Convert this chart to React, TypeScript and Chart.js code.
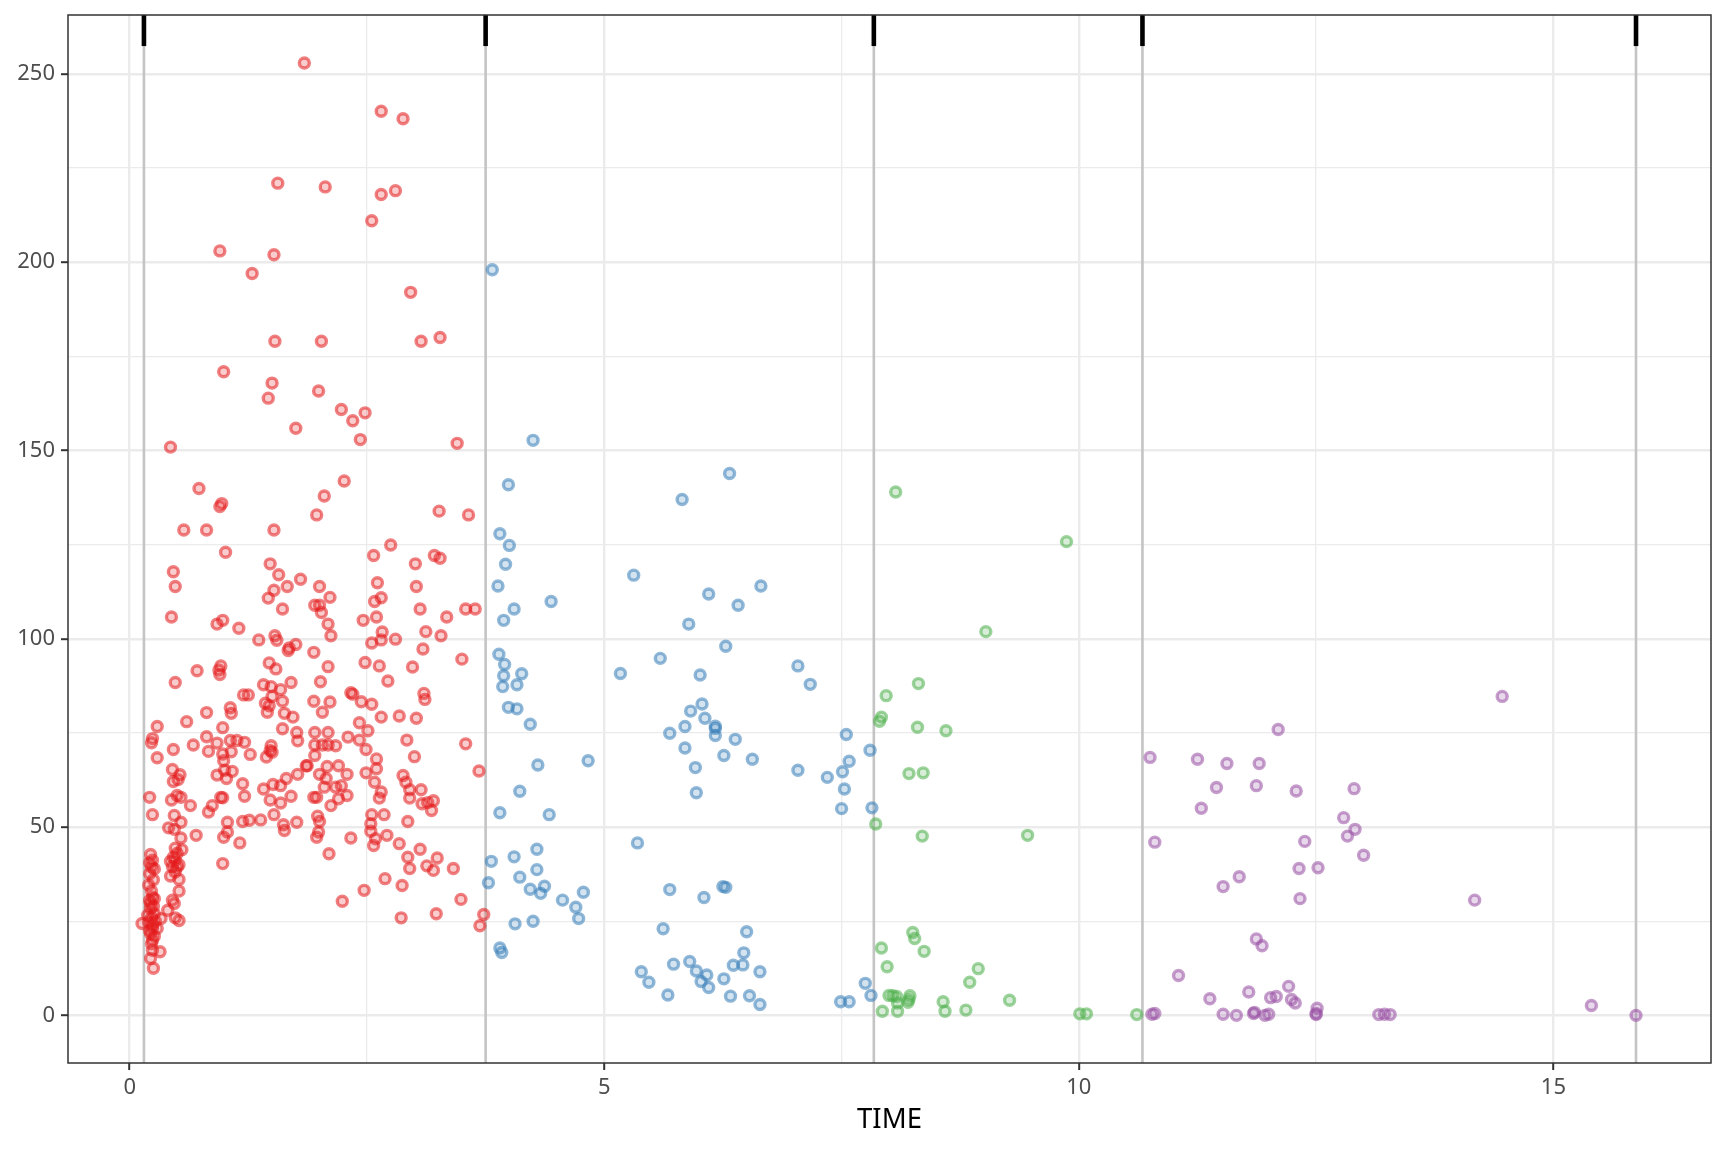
import { useEffect, useRef } from "react"
import { Chart, registerables } from "chart.js"

Chart.register(...registerables)

// [TIME, value], one list per period
const period1: [number, number][] = [
  [1.84, 252.9], [2.65, 240.1], [2.88, 238.1], [1.56, 221.0], [2.06, 220.0], [2.65, 218.0], [2.8, 219.0],
  [2.55, 211.0], [0.95, 203.0], [1.52, 202.0], [1.29, 197.0], [2.96, 192.0], [1.53, 179.0], [2.02, 179.0],
  [3.07, 179.0], [3.27, 180.0], [0.99, 170.9], [1.5, 167.9], [1.46, 163.9], [1.99, 165.8], [2.23, 160.9],
  [2.48, 160.0], [2.35, 157.9], [1.75, 155.9], [2.43, 152.9], [3.45, 151.9], [0.43, 150.9], [2.26, 141.9],
  [0.73, 139.9], [2.05, 137.9], [0.97, 135.9], [0.95, 135.1], [3.26, 133.9], [3.57, 132.9], [1.97, 132.9],
  [0.57, 128.9], [0.81, 128.9], [1.52, 128.9], [1.01, 123.0], [2.75, 124.9], [2.57, 122.1], [3.21, 122.1],
  [3.27, 121.4], [1.48, 119.9], [3.01, 119.9], [0.46, 117.8], [1.57, 117.0], [1.8, 115.8], [0.48, 113.9],
  [1.66, 113.9], [2.0, 113.9], [3.02, 113.9], [1.52, 112.9], [1.46, 110.8], [2.11, 111.0], [2.61, 114.9],
  [2.65, 110.9], [2.58, 109.9], [1.95, 108.9], [2.0, 108.9], [1.61, 107.9], [3.06, 107.9], [3.54, 107.9],
  [3.64, 107.9], [0.44, 105.8], [2.02, 107.0], [2.6, 105.8], [3.34, 105.8], [0.92, 103.9], [0.98, 104.9],
  [1.15, 102.8], [2.46, 104.9], [2.09, 103.9], [2.12, 100.8], [2.66, 101.8], [3.12, 101.9], [3.28, 100.8],
  [1.53, 100.8], [1.55, 99.6], [1.36, 99.7], [1.68, 97.6], [1.75, 98.5], [1.67, 96.9], [1.94, 96.4],
  [2.55, 98.9], [2.65, 99.7], [2.8, 99.9], [3.09, 97.3], [3.5, 94.6], [1.47, 93.6], [1.54, 92.0],
  [0.96, 92.8], [0.94, 91.7], [0.95, 90.5], [0.71, 91.5], [2.09, 92.6], [2.48, 93.7], [2.63, 92.8],
  [2.98, 92.5], [0.48, 88.4], [1.41, 87.8], [1.49, 87.3], [1.59, 86.5], [1.7, 88.4], [2.01, 88.6],
  [2.72, 88.8], [1.2, 85.1], [1.25, 85.1], [1.5, 84.7], [2.33, 85.7], [2.35, 85.3], [3.1, 85.5],
  [3.11, 83.9], [1.43, 82.9], [1.47, 82.2], [1.61, 83.4], [1.45, 80.5], [1.94, 83.4], [2.11, 83.2],
  [2.44, 83.3], [2.55, 82.6], [1.06, 81.7], [1.07, 80.2], [0.81, 80.4], [1.63, 80.2], [1.72, 79.2],
  [2.03, 80.5], [2.65, 79.2], [2.84, 79.5], [3.02, 78.9], [0.6, 78.0], [0.98, 76.4], [0.29, 76.7],
  [2.42, 77.7], [2.51, 75.6], [1.61, 76.1], [0.24, 73.5], [0.23, 72.4], [0.46, 70.6], [0.67, 71.8],
  [0.81, 74.0], [0.83, 70.1], [0.92, 72.3], [1.06, 73.0], [1.13, 73.0], [1.21, 72.5], [1.07, 70.0],
  [0.98, 69.4], [1.27, 69.3], [1.49, 71.6], [1.48, 70.3], [1.5, 69.9], [1.44, 68.6], [1.76, 75.1],
  [1.77, 72.9], [1.95, 75.1], [2.09, 75.1], [1.95, 71.8], [2.03, 71.8], [2.09, 71.8], [2.17, 71.6],
  [2.3, 73.9], [2.42, 73.1], [2.49, 70.6], [2.6, 68.1], [2.92, 73.1], [3.0, 68.7], [3.54, 72.1],
  [3.68, 64.9], [1.95, 69.0], [0.29, 68.4], [0.45, 65.3], [0.53, 63.9], [0.46, 62.1], [0.51, 62.6],
  [0.92, 63.8], [1.0, 65.1], [1.02, 62.9], [1.08, 64.8], [0.99, 67.6], [1.19, 61.5], [1.41, 60.1],
  [1.51, 61.3], [1.59, 61.0], [1.65, 62.9], [1.77, 64.0], [1.86, 66.3], [1.87, 66.3], [2.0, 64.0],
  [2.08, 66.1], [2.2, 66.3], [2.29, 64.0], [2.07, 62.9], [2.05, 60.6], [2.17, 60.6], [2.23, 61.0],
  [2.49, 64.4], [2.6, 65.5], [2.58, 61.9], [2.65, 59.3], [2.88, 63.7], [2.91, 61.9], [2.95, 59.9],
  [3.07, 59.9], [0.21, 57.9], [0.44, 57.2], [0.5, 58.4], [0.54, 57.9], [0.64, 55.7], [0.96, 57.9],
  [0.98, 57.8], [1.21, 58.2], [1.48, 57.2], [1.59, 56.4], [1.7, 58.2], [1.94, 57.9], [1.97, 57.9],
  [2.12, 55.7], [2.2, 57.5], [2.29, 58.4], [2.63, 57.7], [2.95, 57.7], [3.08, 56.2], [3.14, 56.5],
  [3.2, 57.0], [0.83, 54.0], [0.87, 55.7], [0.24, 53.3], [0.47, 53.1], [0.54, 51.3], [0.41, 49.8],
  [0.47, 49.4], [0.54, 47.1], [0.48, 44.4], [0.55, 44.0], [0.43, 40.9], [0.48, 41.2], [0.5, 39.4],
  [0.48, 38.1], [0.43, 37.0], [0.52, 36.1], [0.52, 33.0], [0.45, 30.6], [0.47, 29.7], [0.4, 27.9],
  [0.48, 25.9], [0.52, 25.2], [0.33, 25.7], [0.46, 42.0], [0.5, 43.0], [0.45, 39.5], [0.52, 40.0],
  [0.7, 47.8], [0.98, 40.3], [1.16, 45.8], [0.99, 47.3], [1.03, 48.7], [1.03, 51.3], [1.19, 51.5],
  [1.26, 51.8], [1.38, 51.9], [1.52, 53.3], [1.62, 50.6], [1.63, 49.1], [1.76, 51.3], [1.98, 52.9],
  [2.0, 51.5], [1.99, 48.7], [1.97, 47.3], [2.1, 42.9], [2.33, 47.1], [2.24, 30.3], [2.47, 33.2],
  [2.55, 53.3], [2.54, 50.9], [2.54, 48.9], [2.59, 46.9], [2.57, 45.1], [2.68, 53.3], [2.71, 47.8],
  [2.69, 36.3], [2.84, 45.6], [2.87, 34.5], [2.86, 25.9], [2.93, 42.0], [2.95, 39.0], [2.93, 51.5],
  [3.06, 44.1], [3.13, 39.7], [3.2, 38.5], [3.24, 41.8], [3.23, 27.0], [3.41, 39.0], [3.49, 30.8],
  [3.73, 26.8], [3.69, 23.8], [3.18, 54.4], [0.22, 42.7], [0.24, 41.2], [0.23, 39.4], [0.21, 37.6],
  [0.26, 38.9], [0.2, 34.6], [0.24, 31.4], [0.26, 31.0], [0.22, 29.7], [0.22, 28.4], [0.26, 27.0],
  [0.13, 24.4], [0.2, 24.8], [0.24, 23.1], [0.22, 21.7], [0.24, 20.0], [0.32, 16.9], [0.24, 17.3],
  [0.22, 15.1], [0.25, 12.5], [0.29, 23.1], [0.19, 26.6], [0.21, 40.5], [0.25, 36.0], [0.23, 33.0],
  [0.21, 30.5], [0.25, 29.0], [0.23, 26.0], [0.21, 22.5], [0.26, 21.0], [0.23, 19.0], [0.27, 25.0],
  [0.24, 24.0],
]

const period2: [number, number][] = [
  [3.82, 198.0], [4.25, 152.7], [6.32, 143.9], [3.99, 140.9], [5.82, 137.0], [3.9, 127.9], [4.0, 124.8],
  [3.96, 119.8], [5.31, 116.9], [6.65, 114.0], [3.88, 114.0], [6.1, 111.9], [4.44, 109.9], [4.05, 107.9],
  [6.41, 108.9], [3.94, 104.9], [5.89, 103.9], [6.28, 98.0], [3.89, 95.9], [5.59, 94.8], [3.95, 93.2],
  [7.04, 92.8], [3.94, 90.2], [4.13, 90.7], [5.17, 90.8], [6.01, 90.4], [3.93, 87.3], [4.08, 87.8],
  [7.17, 87.9], [3.99, 81.8], [4.08, 81.4], [6.03, 82.7], [5.91, 80.8], [6.06, 78.9], [4.22, 77.3],
  [5.85, 76.7], [6.17, 76.8], [6.17, 76.2], [5.69, 74.9], [6.17, 74.3], [7.55, 74.6], [6.38, 73.3],
  [5.85, 71.0], [7.8, 70.4], [6.26, 69.0], [6.56, 68.0], [7.58, 67.5], [4.3, 66.5], [4.83, 67.6],
  [5.96, 65.8], [7.04, 65.1], [7.51, 64.7], [7.35, 63.2], [4.11, 59.5], [5.97, 59.1], [7.53, 60.1],
  [7.5, 54.9], [7.82, 55.1], [3.9, 53.8], [4.42, 53.3], [5.35, 45.8], [4.29, 44.1], [3.81, 40.9],
  [4.05, 42.1], [4.29, 38.7], [4.11, 36.7], [3.78, 35.2], [4.22, 33.5], [4.37, 34.3], [4.33, 32.4],
  [4.56, 30.6], [4.78, 32.7], [4.7, 28.7], [4.73, 25.7], [4.06, 24.3], [4.25, 25.0], [3.9, 17.9],
  [3.92, 16.7], [5.69, 33.4], [6.05, 31.3], [6.25, 34.2], [6.28, 34.0], [5.62, 23.0], [6.5, 22.2],
  [6.47, 16.6], [5.39, 11.6], [5.47, 8.8], [5.73, 13.6], [5.9, 14.3], [5.97, 11.8], [6.08, 10.7],
  [6.02, 9.0], [6.1, 7.4], [6.26, 9.7], [6.36, 13.3], [6.46, 13.4], [6.64, 11.6], [5.67, 5.4],
  [6.33, 5.1], [6.53, 5.2], [6.64, 2.9], [7.49, 3.6], [7.58, 3.6], [7.75, 8.5], [7.81, 5.3],
]

const period3: [number, number][] = [
  [8.07, 139.0], [9.87, 125.8], [9.02, 101.9], [8.31, 88.1], [7.97, 84.9], [7.92, 79.2], [7.9, 78.1],
  [8.3, 76.5], [8.6, 75.6], [8.21, 64.2], [8.36, 64.4], [7.86, 50.8], [8.35, 47.6], [9.46, 47.8],
  [8.25, 22.0], [8.27, 20.4], [7.92, 17.9], [8.37, 17.0], [7.98, 12.9], [8.94, 12.4], [8.85, 8.8],
  [8.0, 5.3], [8.04, 5.2], [8.08, 5.0], [8.09, 3.3], [8.2, 3.5], [8.22, 5.2], [8.21, 4.2],
  [7.93, 1.1], [8.09, 1.1], [8.57, 3.6], [8.59, 1.1], [8.81, 1.4], [9.27, 4.0], [10.01, 0.4],
  [10.08, 0.4], [10.61, 0.2],
]

const period4: [number, number][] = [
  [10.75, 68.5], [10.8, 46.0], [10.77, 0.3], [10.8, 0.5], [11.05, 10.6], [11.25, 68.0], [11.29, 55.0],
  [11.38, 4.4], [11.45, 60.5], [11.52, 34.2], [11.56, 66.9], [11.52, 0.3], [11.66, 0.0], [11.69, 36.8],
  [11.79, 6.2], [11.84, 0.5], [11.85, 0.8], [11.87, 20.3], [11.87, 61.0], [11.9, 66.9], [11.93, 18.5],
  [11.96, 0.0], [12.0, 0.3], [12.02, 4.7], [12.08, 5.0], [12.1, 75.9], [12.21, 7.7], [12.24, 4.2],
  [12.28, 3.3], [12.29, 59.6], [12.32, 39.0], [12.33, 31.0], [12.38, 46.2], [12.51, 1.9], [12.5, 0.5],
  [12.5, 0.2], [12.52, 39.2], [12.79, 52.5], [12.83, 47.6], [12.9, 60.2], [12.91, 49.4], [13.0, 42.5],
  [13.16, 0.2], [13.22, 0.3], [13.28, 0.2], [14.17, 30.6], [14.46, 84.7], [15.4, 2.6], [15.87, 0.0],
]

const periodStarts = [0.15, 3.75, 7.84, 10.67, 15.87]
const periodColors = ["228, 26, 28", "55, 126, 184", "77, 175, 74", "152, 78, 163"]

const xGrid = [0, 2.5, 5, 7.5, 10, 12.5, 15]
const xLabels = [0, 5, 10, 15]
const yGrid = [0, 25, 50, 75, 100, 125, 150, 175, 200, 225, 250]
const yLabels = [0, 50, 100, 150, 200, 250]
const xRange = [-0.65, 16.66]
const yRange = [-12.65, 265.65]
const markBottom = 257.4

const font = "'Noto Sans', 'Open Sans', sans-serif"

const panelBorder = {
  id: "panelBorder",
  afterDraw(chart: Chart) {
    const { ctx, chartArea: a } = chart
    ctx.save()
    ctx.strokeStyle = "#333333"
    ctx.lineWidth = 1.5
    ctx.strokeRect(a.left, a.top, a.right - a.left, a.bottom - a.top)
    ctx.restore()
  },
}

export default function App() {
  const chartRef = useRef<HTMLCanvasElement>(null)
  const chartInstance = useRef<Chart | null>(null)

  useEffect(() => {
    if (!chartRef.current) return
    if (chartInstance.current) chartInstance.current.destroy()

    const groups = [period1, period2, period3, period4]

    const pointSets = groups.map((pts, i) => ({
      type: "scatter" as const,
      label: `period ${i + 1}`,
      data: pts.map(([x, y]) => ({ x, y })),
      borderColor: `rgba(${periodColors[i]}, 0.55)`,
      backgroundColor: `rgba(${periodColors[i]}, 0.22)`,
      borderWidth: 3.4,
      pointRadius: 5,
      pointHoverRadius: 5,
      order: 5 - i,
    }))

    const greyLines = periodStarts.map((v) => ({
      type: "line" as const,
      label: "",
      data: [
        { x: v, y: yRange[0] },
        { x: v, y: yRange[1] },
      ],
      borderColor: "#c4c4c4",
      borderWidth: 2.6,
      pointRadius: 0,
      order: 20,
    }))

    const topMarks = periodStarts.map((v) => ({
      type: "line" as const,
      label: "",
      data: [
        { x: v, y: markBottom },
        { x: v, y: yRange[1] },
      ],
      borderColor: "#000000",
      borderWidth: 4.6,
      pointRadius: 0,
      order: -1,
    }))

    chartInstance.current = new Chart(chartRef.current, {
      type: "scatter",
      data: { datasets: [...pointSets, ...greyLines, ...topMarks] as any },
      plugins: [panelBorder],
      options: {
        animation: false,
        responsive: false,
        events: [],
        layout: { padding: { left: 0, top: 15, right: 17, bottom: 0 } },
        plugins: { legend: { display: false }, tooltip: { enabled: false } },
        scales: {
          x: {
            type: "linear",
            min: xRange[0],
            max: xRange[1],
            afterBuildTicks: (s: any) => {
              s.ticks = xGrid.map((value) => ({ value }))
            },
            afterFit: (s: any) => {
              s.height = 89
              s.paddingLeft = 0
              s.paddingRight = 0
            },
            border: { display: false },
            grid: {
              color: "#ebebeb",
              lineWidth: (c: any) => (xLabels.includes(c.tick?.value) ? 2.4 : 1.3),
              drawTicks: true,
              tickLength: 7,
              tickWidth: 2,
              tickColor: (c: any) => (xLabels.includes(c.tick?.value) ? "#333333" : "rgba(0,0,0,0)"),
            },
            ticks: {
              autoSkip: false,
              maxRotation: 0,
              padding: 5,
              color: "#4d4d4d",
              font: { family: font, size: 22 },
              callback: (v: any) => (xLabels.includes(Number(v)) ? String(v) : ""),
            },
            title: {
              display: true,
              text: "TIME",
              color: "#000000",
              font: { family: font, size: 27.5 },
              padding: { top: 0, bottom: 15 },
            },
          },
          y: {
            type: "linear",
            min: yRange[0],
            max: yRange[1],
            afterBuildTicks: (s: any) => {
              s.ticks = yGrid.map((value) => ({ value }))
            },
            afterFit: (s: any) => {
              s.width = 68
              s.paddingTop = 0
              s.paddingBottom = 0
            },
            border: { display: false },
            grid: {
              color: "#ebebeb",
              lineWidth: (c: any) => (yLabels.includes(c.tick?.value) ? 2.4 : 1.3),
              drawTicks: true,
              tickLength: 7,
              tickWidth: 2,
              tickColor: (c: any) => (yLabels.includes(c.tick?.value) ? "#333333" : "rgba(0,0,0,0)"),
            },
            ticks: {
              autoSkip: false,
              padding: 6,
              color: "#4d4d4d",
              font: { family: font, size: 22 },
              callback: (v: any) => (yLabels.includes(Number(v)) ? String(v) : ""),
            },
          },
        },
      },
    })

    return () => {
      if (chartInstance.current) {
        chartInstance.current.destroy()
        chartInstance.current = null
      }
    }
  }, [])

  return (
    <div style={{ position: "fixed", left: 0, top: 0, width: 1728, height: 1152, background: "#ffffff" }}>
      <canvas ref={chartRef} width={1728} height={1152} />
    </div>
  )
}
